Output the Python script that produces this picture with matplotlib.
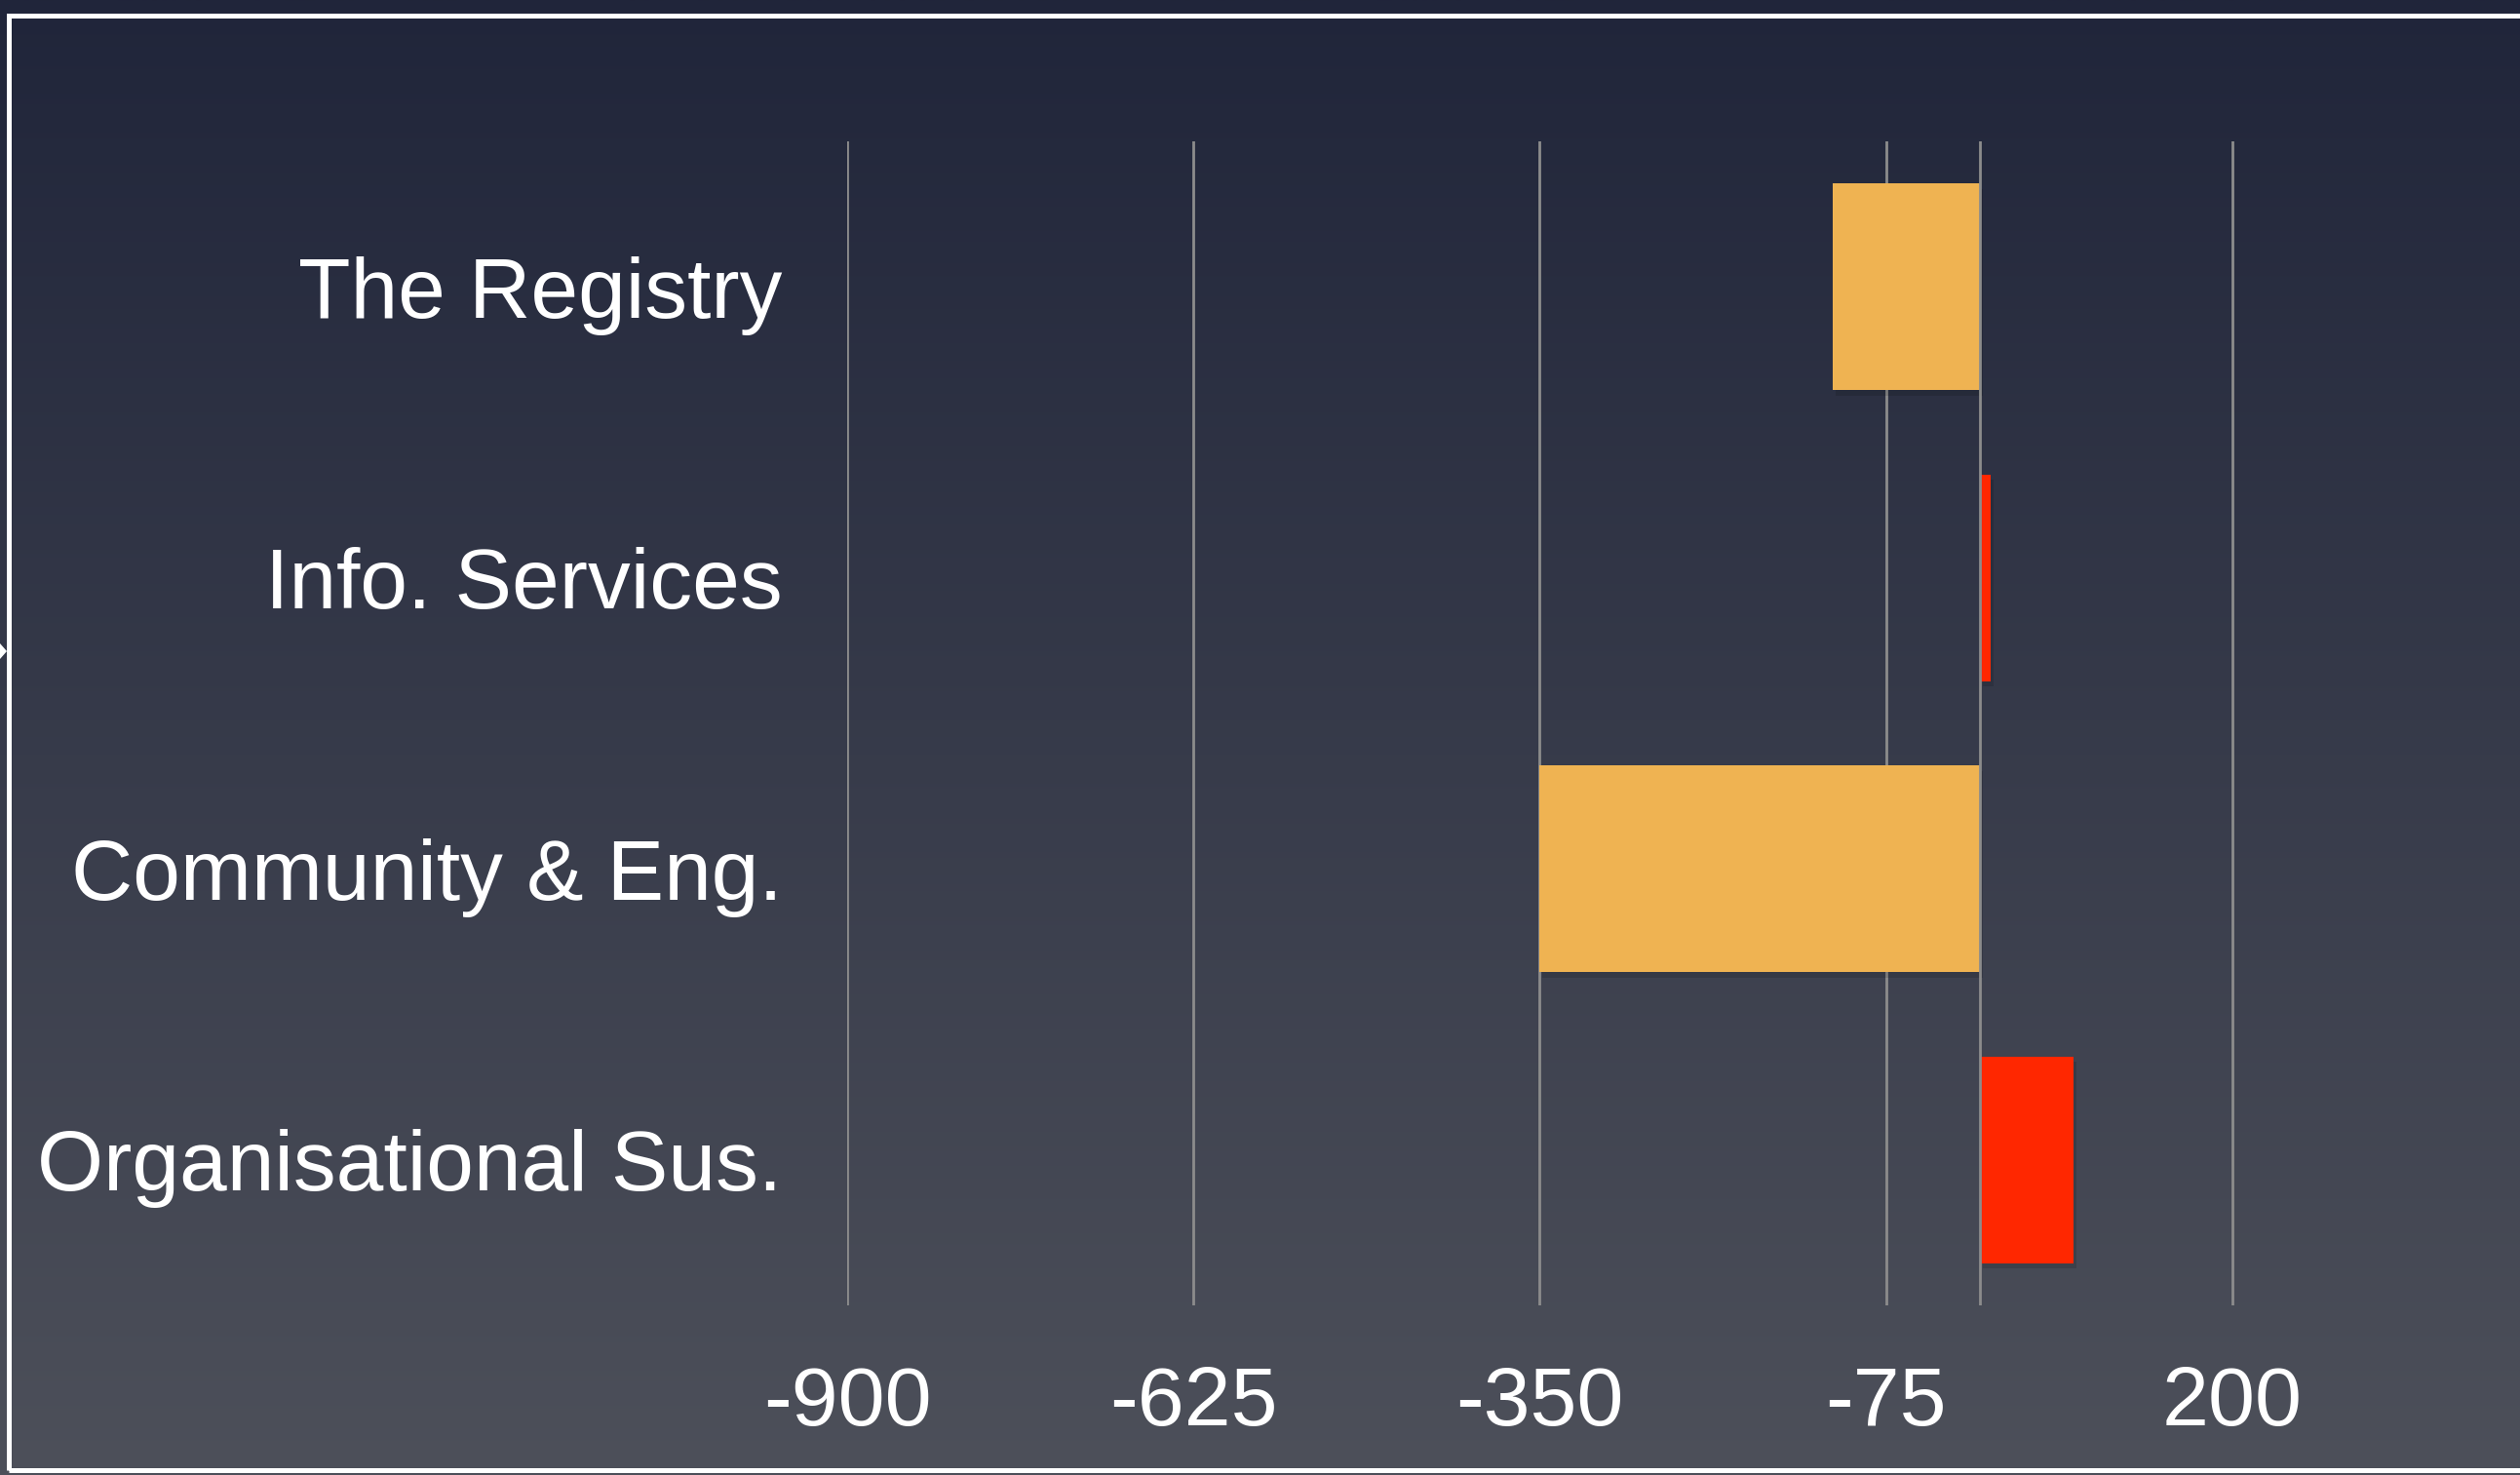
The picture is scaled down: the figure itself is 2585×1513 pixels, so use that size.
import numpy as np
import matplotlib
matplotlib.use("Agg")
import matplotlib.pyplot as plt
import matplotlib.patheffects as pe
from matplotlib.patches import Rectangle, Polygon

categories = ["The Registry", "Info. Services", "Community & Eng.", "Organisational Sus."]
values = [-117, 8, -350, 74]
bar_colors = ["#EFB352", "#FF2700", "#EFB352", "#FF2700"]
xticks = [-900, -625, -350, -75, 200]
xtick_labels = ["-900", "-625", "-350", "-75", "200"]
x_min, x_max = -900, 475

W, H = 2585, 1513
DPI = 100
plt.rcParams['font.family'] = ['Liberation Sans', 'DejaVu Sans']

fig = plt.figure(figsize=(W / DPI, H / DPI), dpi=DPI)

# background gradient
bg = fig.add_axes([0, 0, 1, 1], zorder=-10)
top = np.array([32, 37, 58]) / 255
bot = np.array([77, 80, 90]) / 255
t = np.linspace(0, 1, 512)[:, None]
grad = top[None, None, :] * (1 - t[:, :, None]) + bot[None, None, :] * t[:, :, None]
grad = np.repeat(grad, 2, axis=1)
bg.imshow(grad, aspect='auto', extent=[0, 1, 0, 1], origin='upper')
bg.set_xlim(0, 1)
bg.set_ylim(0, 1)
bg.axis('off')

# frame border (slide edge)
fig.patches.append(Rectangle((9 / W, 1 - 1508 / H), 1.2, (1508 - 16) / H,
                             transform=fig.transFigure, fill=False,
                             edgecolor='white', linewidth=3.6, zorder=5))
fig.patches.append(Polygon([[0, 1 - 660 / H], [7 / W, 1 - 668 / H], [0, 1 - 676 / H]],
                           closed=True, transform=fig.transFigure,
                           facecolor='white', edgecolor='none', zorder=5))

left_px, right_px = 869, 2645
top_px, bot_px = 145, 1339
ax = fig.add_axes([left_px / W, 1 - bot_px / H, (right_px - left_px) / W, (bot_px - top_px) / H])
ax.set_facecolor('none')

y = np.arange(len(categories))
bars = ax.barh(y, values, height=0.71, color=bar_colors, zorder=3)
for b in bars:
    b.set_path_effects([pe.SimplePatchShadow(offset=(2, -4), shadow_rgbFace='black', alpha=0.12), pe.Normal()])

ax.set_xlim(x_min, x_max)
ax.set_ylim(len(categories) - 0.5, -0.5)
ax.set_xticks(xticks)
ax.set_xticklabels(xtick_labels)
ax.set_yticks(y)
ax.set_yticklabels(categories)
ax.xaxis.grid(True, color='#8C8C8C', linewidth=2.0, zorder=1)
ax.axvline(0, color='#8C8C8C', linewidth=2.0, zorder=4)
ax.set_axisbelow(True)
for s in ax.spines.values():
    s.set_visible(False)
ax.tick_params(axis='both', length=0, colors='white', labelsize=62)
ax.tick_params(axis='x', pad=44)
ax.tick_params(axis='y', pad=48, labelsize=63)

fig.savefig("out.png", dpi=DPI)
